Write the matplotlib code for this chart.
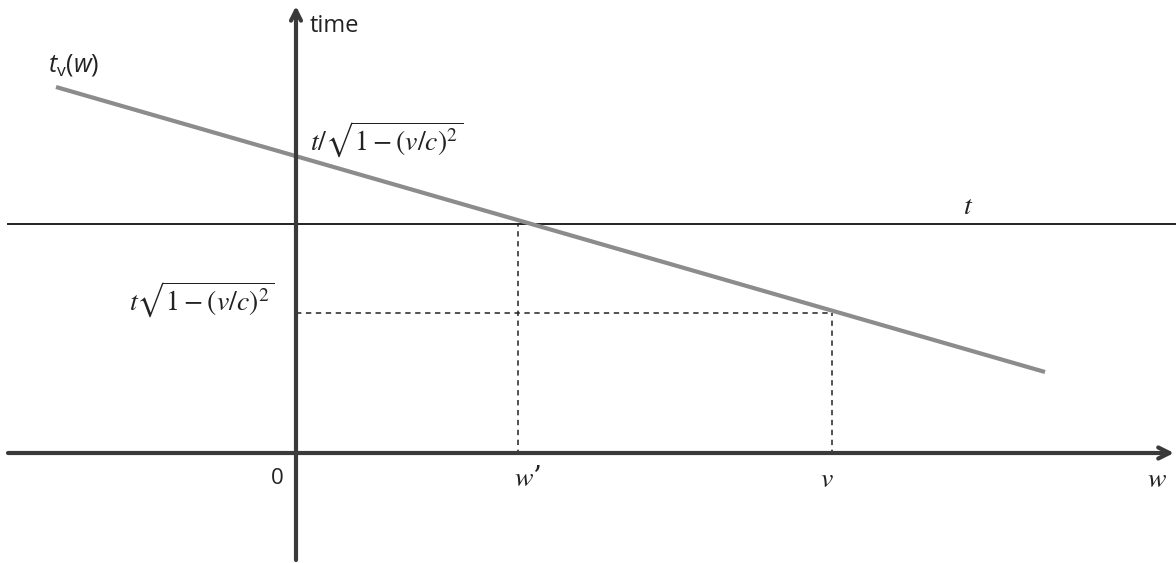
import matplotlib.pyplot as plt

plt.rcParams['mathtext.fontset'] = 'custom'
plt.rcParams['mathtext.rm'] = 'Open Sans'
plt.rcParams['mathtext.it'] = 'Open Sans:italic'

# values (pixels from the origin)
w_prime = 222
v = 536
t = 231
t_contracted = 142          # t*sqrt(1-(v/c)^2)
line_w = [-240, 749]        # t_v(w) endpoints
line_t = [368, 83]

x_min, x_max = -296, 880
y_min, y_max = -108, 455

fig = plt.figure(figsize=(11.76, 5.63), dpi=100)
ax = fig.add_axes([0, 0, 1, 1])
ax.set_xlim(x_min, x_max)
ax.set_ylim(y_min, y_max)
ax.axis('off')

axis_col = '#3a3a3a'
# w axis
ax.annotate('', xy=(x_max - 2, 2), xytext=(x_min + 8, 2),
            arrowprops=dict(arrowstyle='->', color=axis_col, lw=3.0,
                            mutation_scale=20, shrinkA=0, shrinkB=0))
# time axis
ax.annotate('', xy=(0, y_max - 6), xytext=(0, y_min + 3),
            arrowprops=dict(arrowstyle='->', color=axis_col, lw=3.0,
                            mutation_scale=18, shrinkA=0, shrinkB=0))

# horizontal t line
ax.plot([x_min + 8, x_max], [t, t], color='#222222', lw=1.4)

# t_v(w)
ax.plot(line_w, line_t, color='#8c8c8c', lw=3.0, solid_capstyle='butt')

# dashed guides
dash = dict(color='#222222', lw=1.1, ls=(0, (3.5, 3)))
ax.plot([w_prime, w_prime], [0, t], **dash)
ax.plot([0, v], [t_contracted, t_contracted], **dash)
ax.plot([v, v], [0, t_contracted], **dash)

txt = dict(color='#222222')
ax.text(14, 429, 'time', fontsize=17, family='Open Sans', va='center', ha='left', **txt)
ax.text(-248, 390, r'$t_{\mathrm{v}}(w)$', fontsize=18, va='center', ha='left', **txt)
ax.text(14, 315, r'$t/\sqrt{1-(v/c)^2}$', fontsize=20, va='center', ha='left',
        math_fontfamily='stix', **txt)
ax.text(-22, 155, r'$t\sqrt{1-(v/c)^2}$', fontsize=20, va='center', ha='right',
        math_fontfamily='stix', **txt)
ax.text(672, 249, r'$t$', fontsize=20, va='center', ha='center', math_fontfamily='stix', **txt)
ax.text(-19, -24, '0', fontsize=16, family='Open Sans', va='center', ha='center', **txt)
ax.text(w_prime + 10, -24, r"$w$’", fontsize=20, va='center', ha='center',
        math_fontfamily='stix', family='DejaVu Serif', **txt)
ax.text(v - 5, -24, r'$v$', fontsize=20, va='center', ha='center', math_fontfamily='stix', **txt)
ax.text(861, -24, r'$w$', fontsize=20, va='center', ha='center', math_fontfamily='stix', **txt)

fig.savefig('out.png', dpi=100)
